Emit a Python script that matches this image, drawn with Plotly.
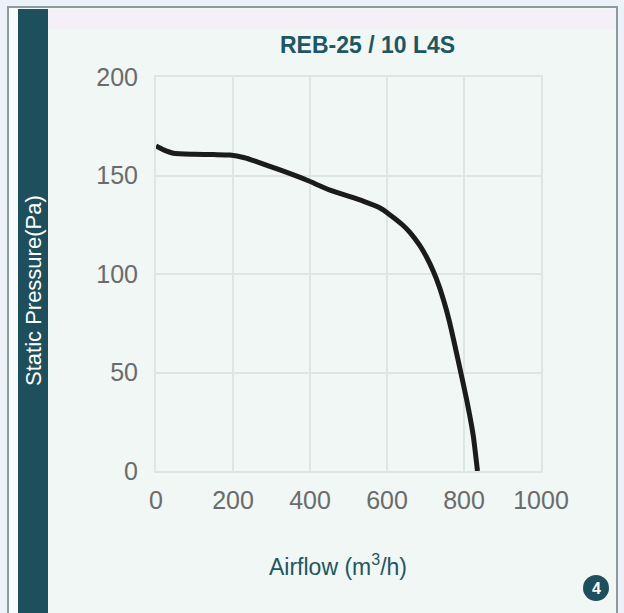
import plotly.graph_objects as go

# ---- data ----
airflow = [0, 20, 45, 100, 150, 192, 230, 261, 322, 391, 452, 538, 582, 608, 640, 660, 685, 703, 720, 735, 748, 762, 785, 807, 824, 835]
pressure = [165, 163, 161.3, 160.8, 160.6, 160.4, 159, 157, 152.8, 147.7, 142.6, 137, 133.5, 130, 125, 121, 114.5, 108.5, 101.5, 94, 86, 76, 56, 36, 18, 0]
x_ticks = [0, 200, 400, 600, 800, 1000]
y_ticks = [0, 50, 100, 150, 200]
title_text = "REB-25 / 10 L4S"
x_title = "Airflow (m<sup>3</sup>/h)"
y_title = "Static Pressure(Pa)"
badge_text = "4"

W, H = 624, 613
L, R, T, B = 156, 541, 77, 471  # plot area in pixels


def px(x):
    return (x - L) / (R - L)


def py(y):
    return (B - y) / (B - T)


TEAL = "#1e4f5c"
GRID = "#dbe6e5"
INNER = "#f0f7f5"
FONT = "Liberation Sans, Arial"

fig = go.Figure()
fig.add_trace(go.Scatter(
    x=airflow, y=pressure, mode="lines",
    line=dict(color="#1b1b1b", width=5, shape="spline", smoothing=0.5),
    hoverinfo="skip", showlegend=False,
))

shapes = [
    dict(type="rect", xref="paper", yref="paper", x0=px(8), x1=px(617), y0=py(640), y1=py(7),
         line=dict(color="#8e9b9d", width=2), fillcolor=INNER, layer="below"),
    dict(type="rect", xref="paper", yref="paper", x0=px(9), x1=px(18), y0=py(640), y1=py(8),
         line=dict(width=0), fillcolor="#f9fcfd", layer="below"),
    dict(type="rect", xref="paper", yref="paper", x0=px(48), x1=px(616), y0=py(30), y1=py(9),
         line=dict(width=0), fillcolor="#f3f1f7", layer="below"),
    dict(type="rect", xref="paper", yref="paper", x0=px(18), x1=px(48), y0=py(640), y1=py(9),
         line=dict(width=0), fillcolor=TEAL, layer="below"),
    dict(type="circle", xref="paper", yref="paper", x0=px(583), x1=px(609), y0=py(601), y1=py(575),
         line=dict(width=0), fillcolor=TEAL),
]

annotations = [
    dict(text=title_text, xref="paper", yref="paper", x=px(367), y=py(45), showarrow=False,
         font=dict(family=FONT, size=23, color="#1e5662", weight="bold"), xanchor="center", yanchor="middle"),
    dict(text=x_title, xref="paper", yref="paper", x=px(338), y=py(565), showarrow=False,
         font=dict(family=FONT, size=23, color="#1e5662"), xanchor="center", yanchor="middle"),
    dict(text=y_title, xref="paper", yref="paper", x=px(33), y=py(291), showarrow=False, textangle=-90,
         font=dict(family=FONT, size=22, color="#ffffff"), xanchor="center", yanchor="middle"),
    dict(text="<b>" + badge_text + "</b>", xref="paper", yref="paper", x=px(596), y=py(588), showarrow=False,
         font=dict(family=FONT, size=16, color="#ffffff"), xanchor="center", yanchor="middle"),
]

fig.update_layout(
    width=W, height=H,
    margin=dict(l=L, r=W - R, t=T, b=H - B, pad=0),
    paper_bgcolor="#ecf2f7",
    plot_bgcolor=INNER,
    shapes=shapes,
    annotations=annotations,
    xaxis=dict(range=[0, 1000], tickvals=x_ticks, showgrid=True, gridcolor=GRID, gridwidth=2,
               zeroline=False, showline=True, linecolor=GRID, linewidth=2, mirror=True,
               ticks="", ticklabelstandoff=6,
               tickfont=dict(family=FONT, size=25, color="#6b6b6b"), fixedrange=True),
    yaxis=dict(range=[0, 200], tickvals=y_ticks, showgrid=True, gridcolor=GRID, gridwidth=2,
               zeroline=False, showline=True, linecolor=GRID, linewidth=2, mirror=True,
               ticks="", ticklabelstandoff=11,
               tickfont=dict(family=FONT, size=25, color="#6b6b6b"), fixedrange=True),
)

fig.write_html("out.html", config={"displayModeBar": False, "staticPlot": True},
               post_script="document.body.style.margin='0';document.body.style.background='#ecf2f7';")
